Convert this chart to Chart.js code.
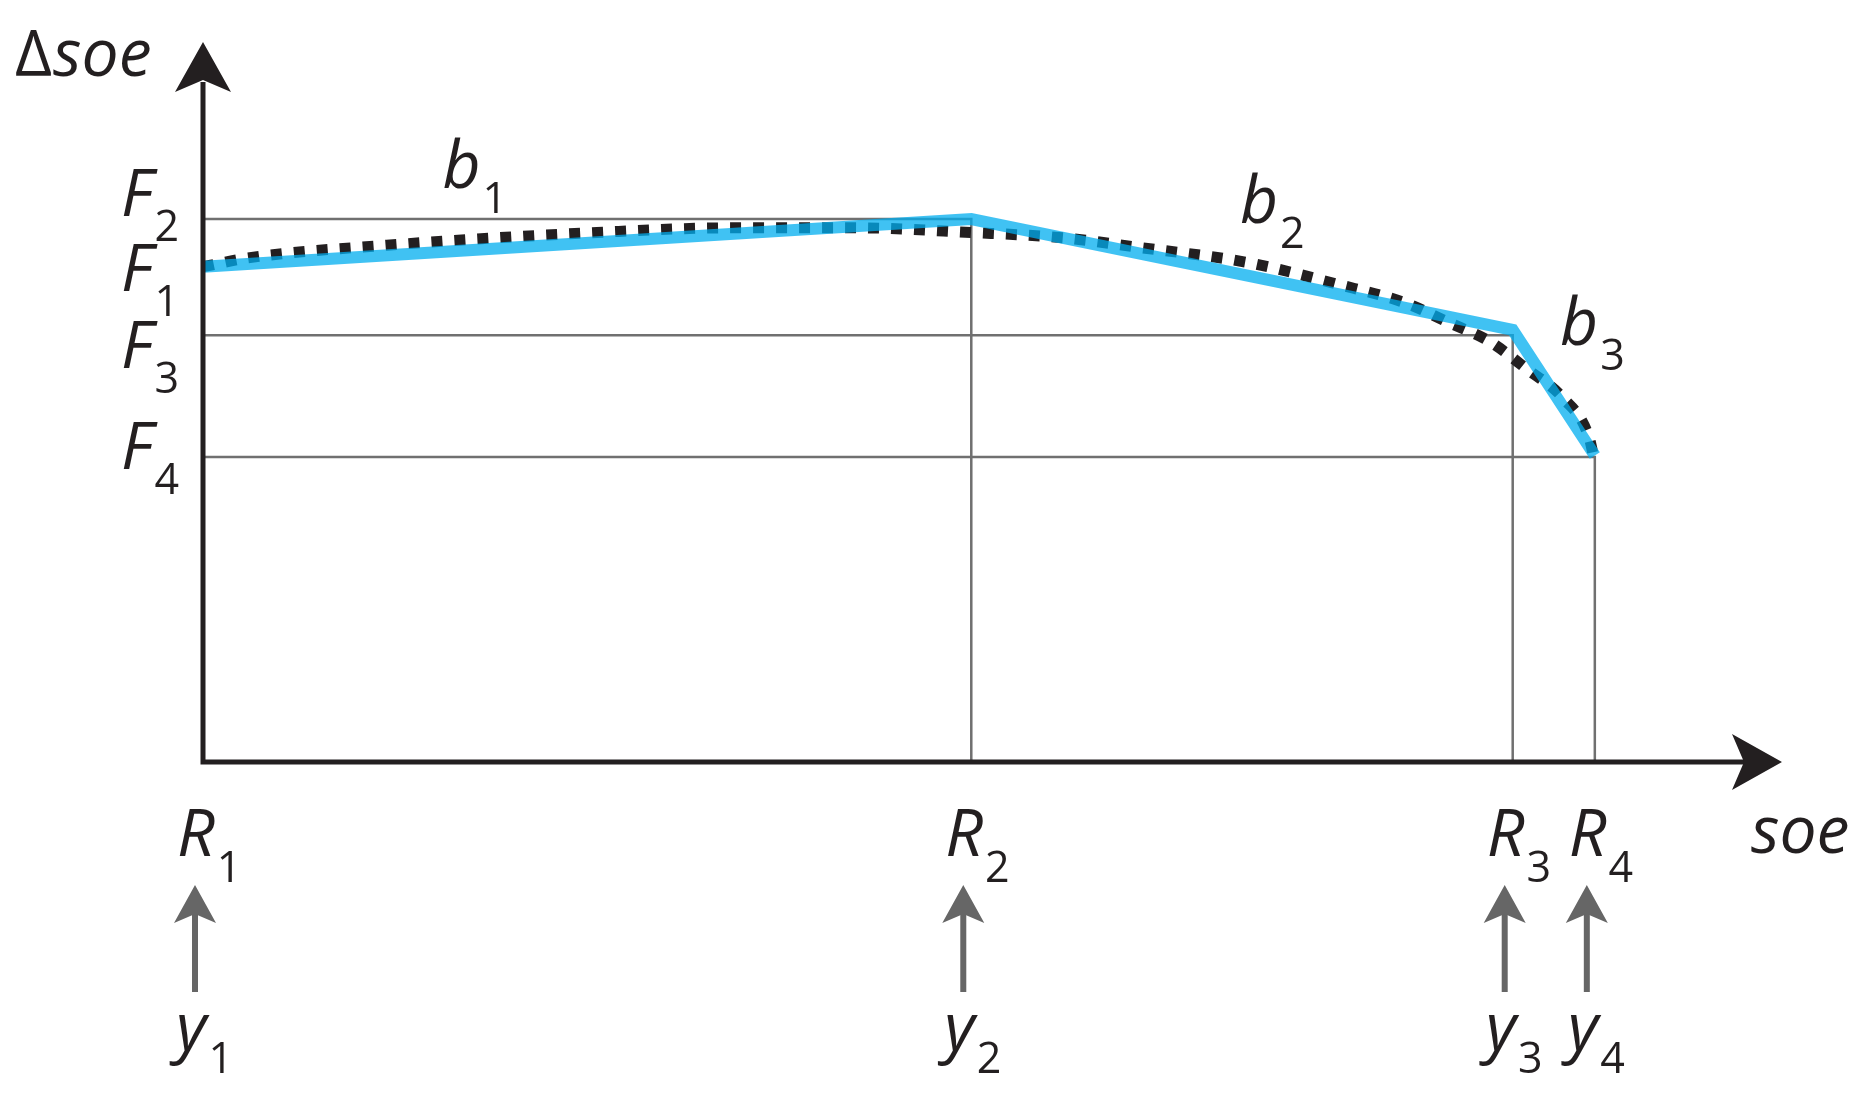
<!DOCTYPE html>
<html>
<head>
<meta charset="utf-8">
<script src="https://cdn.jsdelivr.net/npm/chart.js@4.4.1/dist/chart.umd.min.js"></script>
<style>
  html, body { margin: 0; padding: 0; background: #fff; }
  #wrap { width: 1869px; height: 1104px; position: relative; }
</style>
</head>
<body>
<div id="wrap"><canvas id="soeChart"></canvas></div>
<script>
// breakpoints on the soe axis (R1..R4) and levels on the delta-soe axis (F1..F4)
const breakSoe = [0, 55.2, 94.1, 100];
const levelF = [73.7, 80.8, 63.5, 45.4];
const breakNames = ["1", "2", "3", "4"];

// piecewise-linear approximation (blue)
const pieceSoe = [0, 55.2, 94.1, 100];
const pieceDelta = [73.7, 80.8, 64.3, 45.6];

// measured curve (black dotted)
const curveSoe = [0, 3.2, 13.2, 28.3, 38.4, 46.7, 55.2, 61.8, 66.8, 75.1, 81.5, 86.4, 89.4, 92.5, 95.1, 97.7, 99.6, 100];
const curveDelta = [73.7, 75.0, 76.9, 78.8, 79.5, 79.5, 78.8, 78.0, 76.7, 74.3, 71.1, 68.3, 65.5, 62.5, 58.5, 54.2, 48.2, 44.5];

// segment labels b1..b3 (anchor in data units)
const segNames = ["1", "2", "3"];
const segLabelSoe = [17.2, 74.5, 97.5];
const segLabelDelta = [85.4, 80.2, 62.1];

const INK = "#231f20";
const GRID = "#707070";
const ARROW_GREY = "#666666";

const toPts = (xs, ys) => xs.map((x, i) => ({ x: x, y: ys[i] }));

// guide lines: from the delta-soe axis to each breakpoint, then down to the soe axis
const guides = [1, 2, 3].map(i => ({
    data: [{ x: 0, y: levelF[i] }, { x: breakSoe[i], y: levelF[i] }, { x: breakSoe[i], y: 0 }],
    borderColor: GRID,
    borderWidth: 2.5,
    pointRadius: 0,
    fill: false,
    order: 5,
}));

function arrowHead(ctx, tipX, tipY, dirX, dirY, len, half, notch) {
    // dir is unit vector toward the tip
    const bx = tipX - dirX * len, by = tipY - dirY * len;
    const nx = -dirY, ny = dirX;
    ctx.beginPath();
    ctx.moveTo(tipX, tipY);
    ctx.lineTo(bx + nx * half, by + ny * half);
    ctx.lineTo(tipX - dirX * (len - notch), tipY - dirY * (len - notch));
    ctx.lineTo(bx - nx * half, by - ny * half);
    ctx.closePath();
    ctx.fill();
}

function subText(ctx, main, sub, x, y, dy) {
    ctx.font = "italic 66px 'Open Sans'";
    ctx.fillText(main, x, y);
    const w = ctx.measureText(main).width;
    ctx.font = "43px 'Open Sans'";
    ctx.fillText(sub, x + w + 2, y + dy);
}

const decor = {
    id: "decor",
    afterDatasetsDraw(chart) {
        const ctx = chart.ctx;
        const xs = chart.scales.x, ys = chart.scales.y;
        const x0 = xs.getPixelForValue(0);
        const y0 = ys.getPixelForValue(0);
        const area = chart.chartArea;
        ctx.save();
        ctx.fillStyle = INK;
        ctx.strokeStyle = INK;
        ctx.lineWidth = 5;
        ctx.lineCap = "butt";
        // axes
        ctx.beginPath();
        ctx.moveTo(x0, y0 + 2.5);
        ctx.lineTo(x0, area.top - 8);
        ctx.moveTo(x0 - 2.5, y0);
        ctx.lineTo(area.right + 10, y0);
        ctx.stroke();
        arrowHead(ctx, x0, area.top - 48, 0, -1, 50, 28, 12);
        arrowHead(ctx, area.right + 48, y0, 1, 0, 50, 28, 12);

        ctx.textBaseline = "alphabetic";
        // axis titles
        ctx.font = "64px 'Open Sans'";
        ctx.fillText("\u0394", 15, 76);
        const dw = ctx.measureText("\u0394").width;
        ctx.font = "italic 66px 'Open Sans'";
        ctx.fillText("soe", 15 + dw + 1, 76);
        ctx.fillText("soe", area.right + 17, y0 + 91);

        // breakpoint labels R_i, arrows, y_i
        breakSoe.forEach((s, i) => {
            const px = xs.getPixelForValue(s);
            ctx.fillStyle = INK;
            subText(ctx, "R", breakNames[i], px - 26, y0 + 94, 26);
            subText(ctx, "y", breakNames[i], px - 27, y0 + 288, 23);
            ctx.fillStyle = ARROW_GREY;
            ctx.fillRect(px - 11, y0 + 150, 6, 80);
            arrowHead(ctx, px - 8, y0 + 123, 0, -1, 38, 21, 9);
        });

        // level labels F_i
        const fOffsets = [24, -3, 33, 12];
        ctx.fillStyle = INK;
        levelF.forEach((f, i) => {
            const py = ys.getPixelForValue(f);
            subText(ctx, "F", breakNames[i], 121, py + fOffsets[i], 25);
        });

        // segment labels b_i
        segNames.forEach((n, i) => {
            subText(ctx, "b", n, xs.getPixelForValue(segLabelSoe[i]),
                ys.getPixelForValue(segLabelDelta[i]), 25);
        });
        ctx.restore();
    }
};

const ctx = document.getElementById("soeChart").getContext("2d");
const soeChart = new Chart(ctx, {
    type: "line",
    data: {
        datasets: [
            {
                label: "piecewise",
                data: toPts(pieceSoe, pieceDelta),
                borderColor: "rgba(0, 174, 239, 0.75)",
                borderWidth: 12,
                borderJoinStyle: "miter",
                pointRadius: 0,
                tension: 0,
                clip: false,
                order: 0,
            },
            {
                label: "curve",
                data: toPts(curveSoe, curveDelta),
                borderColor: INK,
                borderWidth: 11,
                borderDash: [11, 12],
                borderCapStyle: "butt",
                cubicInterpolationMode: "monotone",
                pointRadius: 0,
                clip: false,
                order: 1,
            },
            ...guides,
        ],
    },
    options: {
        responsive: true,
        maintainAspectRatio: false,
        animation: false,
        events: [],
        layout: { padding: { left: 203, right: 135, top: 90, bottom: 342 } },
        plugins: { legend: { display: false }, tooltip: { enabled: false } },
        scales: {
            x: { type: "linear", min: 0, max: 110, display: false },
            y: { type: "linear", min: 0, max: 100, display: false },
        },
    },
    plugins: [decor],
});
</script>
</body>
</html>
